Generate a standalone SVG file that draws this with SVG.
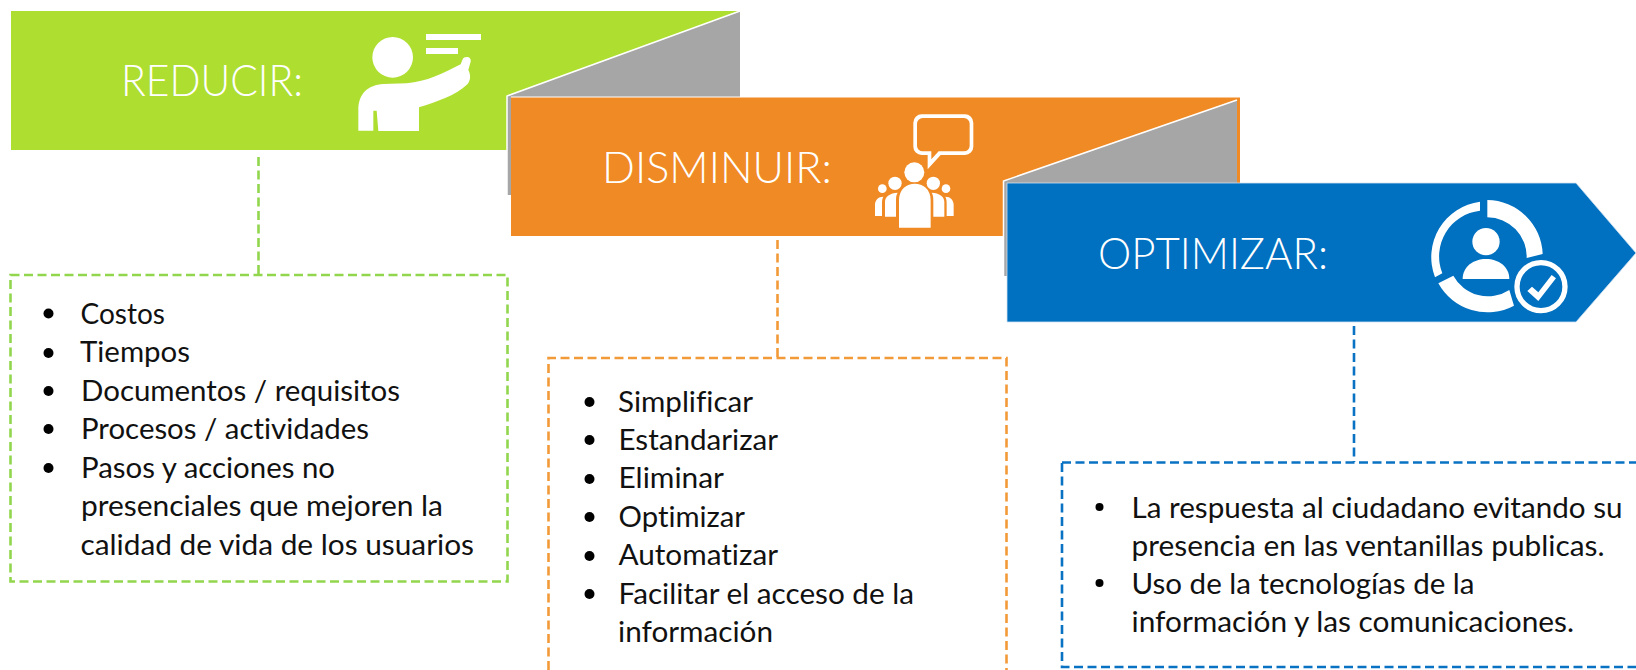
<svg xmlns="http://www.w3.org/2000/svg" width="1636" height="670" viewBox="0 0 1636 670">
<style>
text{font-family:"Lato","Carlito","Liberation Sans",sans-serif;font-variant-ligatures:none}
.h{font-size:44px;font-weight:300;fill:#fff}
.b{font-size:29px;fill:#111}
.w{fill:#fff}
.g{fill:#a6a6a6}
.d{fill:none;stroke-width:2.6;stroke-dasharray:9 4.500}
.dg{stroke:#92d64e}.do{stroke:#f39a38}.db{stroke:#0a72c2}
.e{stroke:#fff;stroke-width:1.5;fill:none}
</style>
<rect width="1636" height="670" fill="#fff"/>
<g id="connectors">
<path class="d dg" d="M258.5 157V275"/>
<path class="d do" d="M777.5 240V358"/>
<path class="d db" d="M1354 326V462"/>
</g>
<g id="reducir">
<polygon points="11,11 740,11 507,96 507,150 11,150" fill="#aede30"/>
<polygon class="g" points="507,96 740,11 740,97 511,97 511,195 507,195"/>
<path class="e" d="M507,196V96L740,11"/>
<text class="h" x="121" y="96" textLength="182" lengthAdjust="spacingAndGlyphs">REDUCIR:</text>
<g transform="translate(340,20) scale(.3333)">
<circle class="w" cx="158" cy="112" r="61"/>
<rect class="w" x="258" y="42" width="165" height="18"/>
<rect class="w" x="258" y="84" width="96" height="18"/>
<path class="w" d="M55,332V270C55,220 85,195 130,192L200,190C260,185 310,160 362,133L368,118C372,108 395,108 392,125L385,150C393,165 392,180 383,192C345,228 290,245 237,262V333H115L110,272H100V332Z"/>
</g>
</g>
<g id="reducir-list">
<rect class="d dg" x="10.500" y="275" width="497" height="306.500"/>
<g class="bul"><circle cx="48.500" cy="313.500" r="5"/><circle cx="48.500" cy="353" r="5"/><circle cx="48.500" cy="391" r="5"/><circle cx="48.500" cy="429" r="5"/><circle cx="48.500" cy="468" r="5"/></g>
<text class="b" x="80.500" y="323.500" textLength="84.500" lengthAdjust="spacingAndGlyphs">Costos</text>
<text class="b" x="80" y="362" textLength="110" lengthAdjust="spacingAndGlyphs">Tiempos</text>
<text class="b" x="81" y="401" textLength="319" lengthAdjust="spacingAndGlyphs">Documentos / requisitos</text>
<text class="b" x="81" y="439" textLength="288" lengthAdjust="spacingAndGlyphs">Procesos / actividades</text>
<text class="b" x="81" y="478" textLength="254" lengthAdjust="spacingAndGlyphs">Pasos y acciones no</text>
<text class="b" x="81" y="516" textLength="362" lengthAdjust="spacingAndGlyphs">presenciales que mejoren la</text>
<text class="b" x="80.500" y="555" textLength="393.500" lengthAdjust="spacingAndGlyphs">calidad de vida de los usuarios</text>
</g>
<g id="disminuir">
<polygon points="511,97 1240,97 1240,183 1007,183 1007,236 511,236" fill="#f08a24"/>
<polygon class="g" points="1003.500,181 1237,100 1237,183 1007,183 1007,276 1003.500,276"/>
<path class="e" d="M1003.500,277V181L1237,100"/>
<path d="M511,97H1240" stroke="#fff" stroke-width="1"/>
<text class="h" x="602" y="183" textLength="230" lengthAdjust="spacingAndGlyphs">DISMINUIR:</text>
<g transform="translate(860,100) scale(.3333)">
<path class="w" fill-rule="evenodd" d="M185,43H315A25,25 0 0 1 340,68V140A25,25 0 0 1 315,165H242L203,208V165H185A25,25 0 0 1 160,140V68A25,25 0 0 1 185,43ZM188,54A17,17 0 0 0 171,71V137A17,17 0 0 0 188,154H214V178L236,154H312A17,17 0 0 0 329,137V71A17,17 0 0 0 312,54Z"/>
<circle class="w" cx="163" cy="217" r="30"/>
<circle class="w" cx="105" cy="250" r="20"/><circle class="w" cx="220" cy="250" r="20"/>
<circle class="w" cx="67" cy="266" r="13"/><circle class="w" cx="258" cy="266" r="13"/>
<path class="w" d="M117,383V300C117,235 212,235 212,300V383Z"/>
<path class="w" d="M75,350V305C75,290 90,279 113,278C108,285 108,295 108,305V350Z"/>
<path class="w" d="M253,350V305C253,290 238,279 215,278C220,285 220,295 220,305V350Z"/>
<path class="w" d="M45,348V315C45,300 55,290 70,290C66,296 66,305 66,315V348Z"/>
<path class="w" d="M281,348V315C281,300 271,290 256,290C260,296 260,305 260,315V348Z"/>
</g>
</g>
<g id="disminuir-list">
<path class="d do" d="M548.500,670V358H1006.500V670"/>
<circle cx="589.500" cy="402" r="5"/><circle cx="589.500" cy="440" r="5"/><circle cx="589.500" cy="479" r="5"/><circle cx="589.500" cy="517" r="5"/><circle cx="589.500" cy="556" r="5"/><circle cx="589.500" cy="594" r="5"/>
<text class="b" x="618" y="412" textLength="135" lengthAdjust="spacingAndGlyphs">Simplificar</text>
<text class="b" x="618.500" y="450" textLength="159.500" lengthAdjust="spacingAndGlyphs">Estandarizar</text>
<text class="b" x="618.500" y="488" textLength="105.500" lengthAdjust="spacingAndGlyphs">Eliminar</text>
<text class="b" x="618.500" y="527" textLength="126.500" lengthAdjust="spacingAndGlyphs">Optimizar</text>
<text class="b" x="618.500" y="565" textLength="159.500" lengthAdjust="spacingAndGlyphs">Automatizar</text>
<text class="b" x="618.500" y="604" textLength="295.500" lengthAdjust="spacingAndGlyphs">Facilitar el acceso de la</text>
<text class="b" x="618" y="642" textLength="155" lengthAdjust="spacingAndGlyphs">información</text>
</g>
<g id="optimizar">
<polygon points="1007,183 1576,183 1636,253 1576,322 1007,322" fill="#0070c0" stroke="#cfe2f2" stroke-width=".8"/>
<text class="h" x="1098" y="269" textLength="230" lengthAdjust="spacingAndGlyphs">OPTIMIZAR:</text>
<g transform="translate(1410,185) scale(.3333)">
<path class="w" d="M210,50V77A138,138 0 0 0 97,265L75,277A168,168 0 0 1 210,50Z"/>
<path class="w" d="M232,45A168,168 0 0 1 398,207L350,219A118,118 0 0 0 232,97Z"/>
<path class="w" d="M85,295L130,272A118,118 0 0 0 298,315L312,362A168,168 0 0 1 85,295Z"/>
<circle class="w" cx="228" cy="170" r="41"/>
<path class="w" d="M158,282C158,245 190,222 228,222C266,222 298,245 298,282Z"/>
<circle cx="393" cy="305" r="72" fill="#0070c0" stroke="#fff" stroke-width="16"/>
<path class="w" d="M352,318L366,305L385,322L425,270L438,280L385,348Z"/>
</g>
</g>
<g id="optimizar-list">
<rect class="d db" x="1062" y="462.500" width="590" height="204.500"/>
<circle cx="1099.500" cy="507" r="4"/><circle cx="1099.500" cy="583" r="4"/>
<text class="b" x="1131.500" y="518" textLength="491" lengthAdjust="spacingAndGlyphs">La respuesta al ciudadano evitando su</text>
<text class="b" x="1131.500" y="556" textLength="473" lengthAdjust="spacingAndGlyphs">presencia en las ventanillas publicas.</text>
<text class="b" x="1131.500" y="594" textLength="343" lengthAdjust="spacingAndGlyphs">Uso de la tecnologías de la</text>
<text class="b" x="1131.500" y="632" textLength="442.500" lengthAdjust="spacingAndGlyphs">información y las comunicaciones.</text>
</g>
</svg>
